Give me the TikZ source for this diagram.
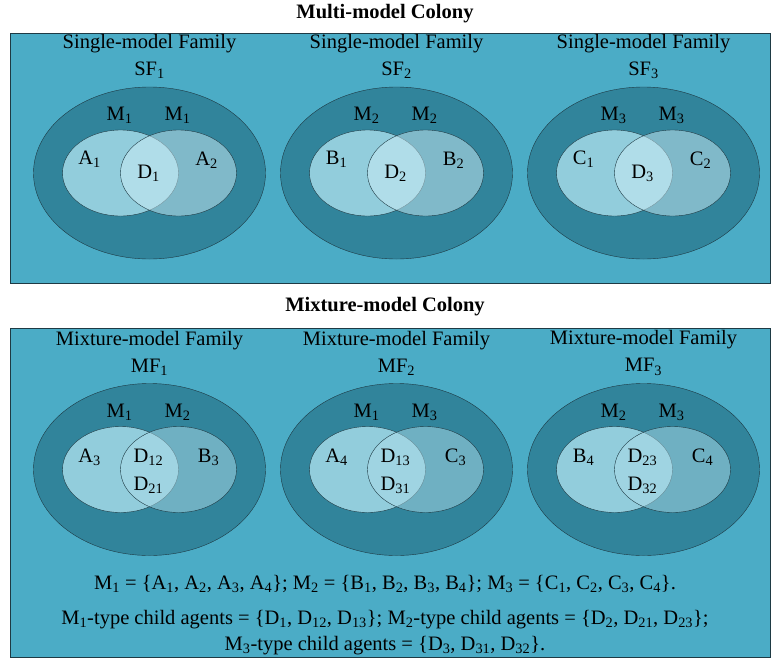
\documentclass[tikz,border=0pt]{standalone}
\usepackage{fontspec}
\setmainfont{Liberation Serif}
\usetikzlibrary{positioning, calc, shapes.geometric}
\newcommand{\idx}[1]{\textsubscript{#1}}
\definecolor{panel}{HTML}{4BACC6}
\definecolor{outerfill}{HTML}{31849B}
\definecolor{innerfill}{HTML}{92CDDC}
\definecolor{singlefill}{HTML}{CFEEF7}
\definecolor{mixfill}{HTML}{ADDCE9}
\definecolor{edge}{HTML}{1E3A44}

\tikzset{
  panelbox/.style={draw=edge, fill=panel, line width=0.8pt},
  outer/.style={ellipse, draw=edge, fill=outerfill, minimum width=232pt, minimum height=172pt, inner sep=0pt, outer sep=0pt},
  setl/.style={ellipse, draw=edge, fill=innerfill, minimum width=116pt, minimum height=86pt, inner sep=0pt},
  setr/.style={setl, fill=#1, fill opacity=0.5},
  lbl/.style={inner sep=0pt, align=center}
}

\begin{document}
\begin{tikzpicture}[x=1pt, y=-1pt, font=\fontsize{20.5}{26}\selectfont]
  \useasboundingbox (0,0) rectangle (771,662);
  % top colony
  \node[font=\fontsize{20.5}{26}\selectfont\bfseries] (tmulti) at (385,14) {Multi-model Colony};
  \draw[panelbox] (10,33) rectangle (770,283);
  \foreach \n/\x/\p in {1/149.5/A, 2/396.5/B, 3/643.5/C} {
    \node[outer] (sf\n) at (\x,173) {};
    \node[setl] (sf\n-l) at ($(sf\n)+(-29,0)$) {};
    \node[setr=singlefill] (sf\n-r) at ($(sf\n)+(29,0)$) {};
    \node[lbl] (sf\n-t) at ($(sf\n)+(0,-116.5)$) {Single-model Family\\[1pt]SF\idx{\n}};
    \node[lbl] (sf\n-ma) at ($(sf\n)+(-30,-58)$) {M\idx{\n}};
    \node[lbl] (sf\n-mb) at ($(sf\n)+(28,-58)$) {M\idx{\n}};
    \node[lbl] (sf\n-a) at ($(sf\n)+(-60,-14)$) {\p\idx{1}};
    \node[lbl] (sf\n-d) at ($(sf\n)+(-1,0)$) {D\idx{\n}};
    \node[lbl] (sf\n-b) at ($(sf\n)+(57,-13)$) {\p\idx{2}};
  }
  % bottom colony
  \node[font=\fontsize{20.5}{26}\selectfont\bfseries] (tmix) at (385,307) {Mixture-model Colony};
  \draw[panelbox] (10,328) rectangle (770,657);
  \foreach \n/\x/\ma/\mb/\l/\r/\da/\db in {1/149.5/1/2/{A\idx{3}}/{B\idx{3}}/12/21,
      2/396.5/1/3/{A\idx{4}}/{C\idx{3}}/13/31, 3/643.5/2/3/{B\idx{4}}/{C\idx{4}}/23/32} {
    \node[outer] (mf\n) at (\x,469.5) {};
    \node[setl] (mf\n-l) at ($(mf\n)+(-29,0)$) {};
    \node[setr=mixfill] (mf\n-r) at ($(mf\n)+(29,0)$) {};
    \node[lbl] (mf\n-t) at ($(mf\n)+(0,-116.5)$) {Mixture-model Family\\[1pt]MF\idx{\n}};
    \node[lbl] (mf\n-ma) at ($(mf\n)+(-30,-57.5)$) {M\idx{\ma}};
    \node[lbl] (mf\n-mb) at ($(mf\n)+(28,-57.5)$) {M\idx{\mb}};
    \node[lbl] (mf\n-a) at ($(mf\n)+(-60,-12.5)$) {\l};
    \node[lbl] (mf\n-d) at ($(mf\n)+(-1,1.5)$) {D\idx{\da}\\[2pt]D\idx{\db}};
    \node[lbl] (mf\n-b) at ($(mf\n)+(59,-12.5)$) {\r};
  }
  \node[lbl, font=\fontsize{20.5}{26}\selectfont] (sets) at (385,615)
    {M\idx{1} = \{A\idx{1}, A\idx{2}, A\idx{3}, A\idx{4}\}; M\idx{2} = \{B\idx{1}, B\idx{2}, B\idx{3}, B\idx{4}\}; M\idx{3} = \{C\idx{1}, C\idx{2}, C\idx{3}, C\idx{4}\}.\\[9pt]
     M\idx{1}-type child agents = \{D\idx{1}, D\idx{12}, D\idx{13}\}; M\idx{2}-type child agents = \{D\idx{2}, D\idx{21}, D\idx{23}\};\\
     M\idx{3}-type child agents = \{D\idx{3}, D\idx{31}, D\idx{32}\}.};
\end{tikzpicture}
\end{document}
